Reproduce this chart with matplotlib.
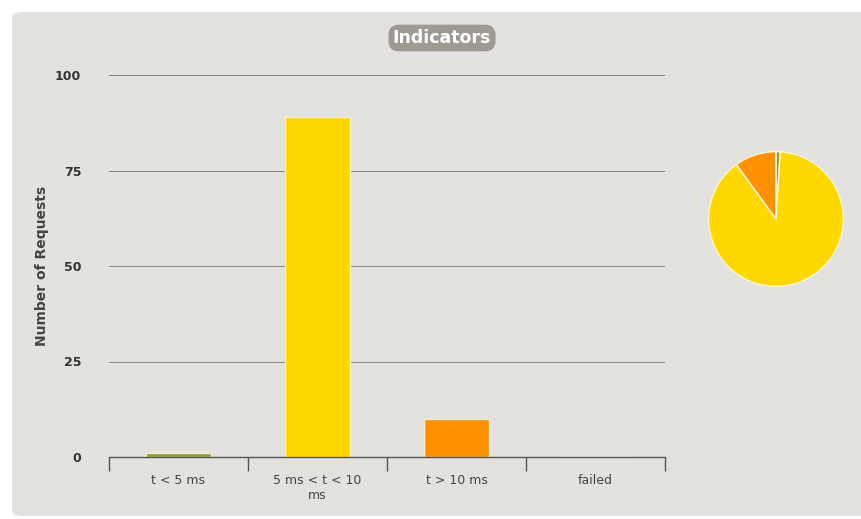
import matplotlib
matplotlib.use("Agg")
import matplotlib.pyplot as plt
from matplotlib.patches import FancyBboxPatch

categories = ["t < 5 ms", "5 ms < t < 10\nms", "t > 10 ms", "failed"]
requests = [1, 89, 10, 0]
colors = ["#8a9a3c", "#ffd800", "#ff9100", "#e0402a"]
y_ticks = [0, 25, 50, 75, 100]

W, H = 862, 519
fig = plt.figure(figsize=(W / 100, H / 100), dpi=100)
fig.patch.set_facecolor("white")

# gray panel behind everything
panel = FancyBboxPatch((12 / W, 3 / H), (W - 12) / W + 0.05, (H - 15) / H,
                       boxstyle="round,pad=0,rounding_size=0.012",
                       transform=fig.transFigure, facecolor="#e3e2de",
                       edgecolor="none", zorder=-10)
fig.patches.append(panel)

# bar chart
ax = fig.add_axes([109 / W, (H - 457) / H, 556 / W, (457 - 75) / H])
ax.set_facecolor("none")
x = range(len(categories))
ax.bar(x, requests, width=0.47, color=colors, edgecolor="#f6f0c8", linewidth=1, zorder=3)
ax.set_xlim(-0.5, 3.5)
ax.set_ylim(0, 100)
ax.set_yticks(y_ticks)
ax.set_yticklabels([str(v) for v in y_ticks], fontsize=9, color="#333333", fontweight="bold")
ax.tick_params(axis="y", length=0, pad=20)
for v in y_ticks[1:]:
    ax.axhline(v, color="#858585", linewidth=0.7, zorder=1)

ax.set_xticks([-0.5, 0.5, 1.5, 2.5, 3.5])
ax.set_xticklabels([])
ax.tick_params(axis="x", length=10, width=1, color="#555555", direction="out")
ax.set_xticks(list(x), minor=True)
ax.set_xticklabels(categories, minor=True, fontsize=9, color="#444444")
ax.tick_params(axis="x", which="minor", length=0, pad=12)
for s in ["top", "right", "left"]:
    ax.spines[s].set_visible(False)
ax.spines["bottom"].set_color("#555555")
ax.spines["bottom"].set_linewidth(1)
ax.spines["bottom"].set_zorder(4)

fig.text(42 / W, 1 - 266 / H, "Number of Requests", rotation=90, ha="center", va="center",
         fontsize=10, fontweight="bold", color="#444444")

# title badge
fig.text(442 / W, 1 - 38 / H, "Indicators", ha="center", va="center", fontsize=12.5,
         fontweight="bold", color="white",
         bbox=dict(boxstyle="round,pad=0.25,rounding_size=0.6", facecolor="#9d9b91",
                   edgecolor="none"))

# pie
pax = fig.add_axes([708 / W, (H - 287) / H, 136 / W, 136 / H])
pax.pie(requests, colors=colors, startangle=90, counterclock=False,
        wedgeprops=dict(edgecolor="#fbf6d0", linewidth=1))
pax.set_aspect("equal")
pax.set_xlim(-1.01, 1.01)
pax.set_ylim(-1.01, 1.01)

fig.savefig("out.png", dpi=100)
